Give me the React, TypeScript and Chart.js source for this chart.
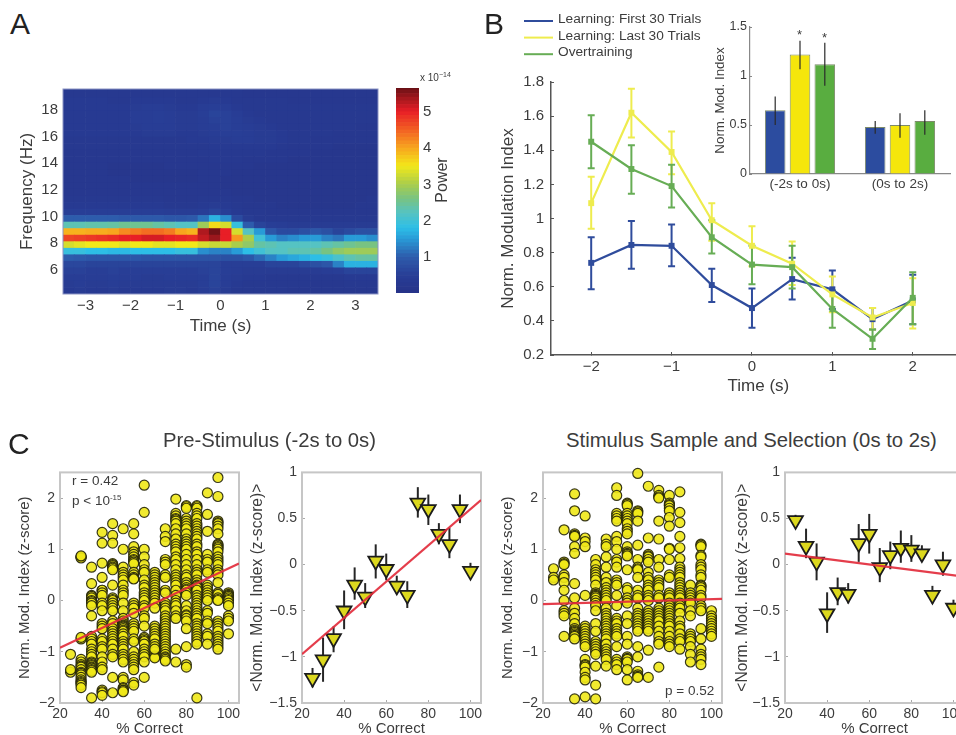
import React, { useEffect, useRef } from "react";
import { Chart, registerables } from "chart.js";

Chart.register(...registerables);

const FONT = '"Liberation Sans", Arial, sans-serif';
const TEXT = "#3c3c3c";

// ---------- Panel A ----------
const heatTimes = [-3.375, -3.125, -2.875, -2.625, -2.375, -2.125, -1.875, -1.625, -1.375, -1.125, -0.875, -0.625, -0.375, -0.125, 0.125, 0.375, 0.625, 0.875, 1.125, 1.375, 1.625, 1.875, 2.125, 2.375, 2.625, 2.875, 3.125, 3.375];
const heatFreqEdges = [4.2, 4.69, 5.18, 5.67, 6.16, 6.65, 7.14, 7.63, 8.12, 8.61, 9.1, 9.59, 10.08, 10.57, 11.06, 11.55, 12.04, 12.53, 13.02, 13.51, 14.0, 14.49, 14.98, 15.47, 15.96, 16.45, 16.94, 17.43, 17.92, 18.41, 18.9, 19.39, 19.88];
const heatPower = [
  [.35, .4, .35, .35, .4, .35, .35, .35, .35, .4, .4, .35, .45, .55, .4, .3, .3, .3, .3, .3, .25, .25, .25, .25, .25, .25, .25, .25],
  [.4, .45, .4, .4, .45, .4, .4, .4, .4, .4, .4, .4, .5, .6, .45, .35, .3, .3, .3, .3, .3, .3, .25, .25, .25, .3, .3, .3],
  [.45, .45, .45, .45, .5, .45, .45, .4, .4, .45, .45, .45, .5, .6, .45, .4, .35, .35, .3, .3, .3, .3, .3, .3, .3, .35, .35, .35],
  [.55, .55, .5, .5, .55, .5, .5, .5, .5, .5, .5, .5, .55, .6, .5, .45, .4, .4, .4, .4, .4, .4, .4, .45, .5, .6, .6, .6],
  [.65, .65, .6, .6, .6, .6, .6, .6, .6, .6, .6, .6, .6, .6, .5, .5, .5, .5, .6, .6, .6, .7, .8, .9, 1.3, 1.7, 1.7, 1.7],
  [1.0, .95, .9, .9, .9, .9, .9, .85, .85, .85, .85, .85, .85, .85, .8, .8, .9, 1.1, 1.3, 1.5, 1.6, 1.7, 1.8, 1.9, 2.1, 2.3, 2.4, 2.4],
  [1.9, 1.9, 1.8, 1.8, 1.75, 1.75, 1.8, 1.8, 1.8, 1.8, 1.9, 1.9, 1.4, 1.3, 1.3, 1.5, 1.8, 2.0, 2.2, 2.2, 2.3, 2.3, 2.4, 2.6, 2.8, 2.9, 2.9, 2.9],
  [3.3, 3.4, 3.5, 3.5, 3.5, 3.4, 3.5, 3.5, 3.4, 3.4, 3.5, 3.5, 3.3, 3.2, 3.2, 3.0, 2.8, 2.4, 2.3, 2.2, 2.2, 2.2, 2.2, 2.3, 2.4, 2.5, 2.6, 2.6],
  [4.7, 4.75, 4.8, 4.85, 4.9, 5.0, 5.0, 5.1, 5.1, 5.0, 4.95, 4.9, 5.2, 5.4, 5.0, 4.1, 3.0, 2.0, 1.5, 1.3, 1.4, 1.5, 1.5, 1.3, 1.2, 1.5, 1.5, 1.4],
  [3.9, 3.9, 3.95, 3.95, 4.0, 4.2, 4.3, 4.4, 4.4, 4.3, 4.0, 3.9, 5.3, 5.6, 5.0, 3.3, 2.2, 1.5, .9, .7, .7, .8, .9, .8, .6, .7, .8, .8],
  [2.3, 2.3, 2.35, 2.35, 2.4, 2.5, 2.5, 2.5, 2.4, 2.3, 2.2, 2.2, 2.9, 3.6, 3.3, 1.9, 1.0, .6, .5, .45, .4, .4, .4, .4, .4, .4, .4, .4],
  [1.0, 1.0, 1.0, 1.0, 1.0, .95, .95, .95, .95, .9, .9, .95, 1.2, 1.7, 1.4, .7, .4, .3, .3, .3, .3, .3, .3, .3, .3, .3, .3, .3],
  [.5, .5, .5, .5, .5, .5, .5, .5, .5, .45, .45, .45, .5, .6, .5, .35, .3, .3, .25, .25, .25, .25, .25, .25, .25, .25, .25, .25],
  [.35, .35, .35, .35, .35, .35, .35, .35, .35, .3, .3, .3, .35, .4, .35, .3, .25, .25, .25, .2, .2, .2, .2, .2, .2, .2, .25, .25],
  [.3, .3, .3, .3, .3, .3, .3, .3, .3, .25, .25, .25, .3, .3, .3, .25, .25, .2, .2, .2, .2, .2, .2, .2, .2, .2, .2, .25],
  [.25, .25, .25, .25, .25, .25, .25, .25, .25, .25, .25, .25, .25, .25, .25, .2, .2, .2, .2, .2, .2, .2, .2, .2, .2, .2, .2, .2],
  [.25, .25, .25, .25, .25, .25, .25, .25, .25, .25, .25, .25, .25, .25, .2, .2, .2, .2, .2, .2, .2, .2, .2, .2, .2, .2, .2, .2],
  [.25, .25, .25, .25, .25, .25, .2, .2, .2, .2, .2, .2, .25, .25, .2, .2, .2, .2, .2, .2, .2, .2, .2, .2, .2, .2, .2, .2],
  [.25, .25, .25, .25, .2, .2, .2, .2, .2, .2, .2, .2, .25, .25, .25, .2, .2, .2, .2, .2, .2, .2, .2, .2, .2, .2, .2, .2],
  [.25, .25, .25, .25, .2, .2, .2, .2, .2, .25, .25, .25, .25, .25, .25, .25, .25, .2, .2, .2, .2, .2, .2, .2, .2, .2, .2, .2],
  [.25, .25, .25, .25, .25, .25, .25, .25, .25, .25, .25, .25, .25, .3, .3, .3, .25, .25, .25, .25, .2, .2, .2, .2, .2, .2, .2, .2],
  [.25, .25, .25, .25, .25, .25, .25, .25, .25, .25, .25, .25, .3, .3, .3, .3, .3, .3, .25, .25, .25, .25, .2, .2, .2, .2, .2, .2],
  [.3, .3, .3, .3, .3, .3, .3, .3, .3, .3, .3, .3, .3, .35, .35, .35, .35, .35, .35, .3, .25, .25, .25, .25, .2, .2, .2, .2],
  [.3, .3, .3, .3, .3, .3, .3, .3, .3, .3, .3, .35, .35, .4, .4, .45, .45, .4, .4, .35, .3, .3, .25, .25, .25, .25, .25, .25],
  [.35, .35, .35, .35, .35, .35, .35, .4, .4, .4, .35, .35, .4, .45, .5, .5, .45, .4, .4, .35, .3, .3, .3, .3, .25, .25, .25, .25],
  [.35, .35, .35, .35, .35, .35, .4, .45, .45, .45, .4, .4, .45, .5, .55, .5, .45, .4, .35, .3, .3, .3, .3, .3, .3, .3, .25, .25],
  [.35, .35, .35, .35, .35, .35, .45, .45, .5, .45, .4, .4, .45, .55, .55, .5, .4, .35, .3, .3, .3, .3, .3, .3, .3, .3, .3, .3],
  [.35, .35, .35, .35, .35, .35, .45, .45, .5, .45, .4, .4, .5, .6, .55, .45, .35, .3, .3, .3, .3, .3, .3, .3, .3, .3, .3, .3],
  [.35, .35, .35, .35, .35, .35, .4, .45, .45, .4, .35, .35, .45, .5, .45, .35, .3, .3, .3, .3, .3, .3, .3, .3, .3, .3, .3, .3],
  [.35, .35, .35, .35, .3, .3, .35, .35, .35, .35, .3, .3, .35, .4, .35, .3, .3, .3, .3, .3, .25, .25, .25, .25, .25, .25, .25, .25],
  [.3, .3, .3, .3, .3, .3, .3, .3, .3, .3, .3, .3, .3, .3, .3, .3, .25, .25, .25, .25, .25, .25, .25, .25, .25, .25, .25, .25],
  [.3, .3, .3, .3, .3, .3, .3, .3, .3, .3, .3, .3, .3, .3, .3, .3, .25, .25, .25, .25, .25, .25, .25, .25, .25, .25, .25, .25],
];
const colorbarLevels = [0, .1, .2, .3, .4, .5, .6, .7, .8, .9, 1, 1.1, 1.2, 1.3, 1.4, 1.5, 1.6, 1.7, 1.8, 1.9, 2, 2.1, 2.2, 2.3, 2.4, 2.5, 2.6, 2.7, 2.8, 2.9, 3, 3.1, 3.2, 3.3, 3.4, 3.5, 3.6, 3.7, 3.8, 3.9, 4, 4.1, 4.2, 4.3, 4.4, 4.5, 4.6, 4.7, 4.8, 4.9, 5, 5.1, 5.2, 5.3, 5.4, 5.5, 5.6, 5.7];
const jetStops: [number, number, number, number][] = [
  [0, 38, 50, 135], [0.5, 40, 62, 150], [1, 45, 92, 172], [1.5, 40, 155, 215], [1.8, 45, 190, 230],
  [2.2, 85, 195, 195], [2.6, 120, 195, 130], [3, 170, 205, 75], [3.5, 242, 232, 25], [4, 248, 165, 30],
  [4.5, 242, 95, 35], [5, 232, 30, 38], [5.35, 165, 24, 30], [5.7, 95, 15, 20],
];
const heatTimeTicks = [-3, -2, -1, 0, 1, 2, 3];
const heatFreqTicks = [6, 8, 10, 12, 14, 16, 18];
const colorbarTicks = [1, 2, 3, 4, 5];

// ---------- Panel B ----------
const modTimes = [-2, -1.5, -1, -0.5, 0, 0.5, 1, 1.5, 2];
const firstTrials = [.74, .845, .84, .61, .475, .645, .585, .41, .52];
const firstLow = [.585, .705, .72, .51, .36, .525, .47, .35, .38];
const firstHigh = [.89, .985, .965, .705, .59, .77, .695, .475, .67];
const lastTrials = [1.09, 1.62, 1.39, .99, .84, .735, .555, .42, .505];
const lastLow = [.94, 1.475, 1.26, .87, .72, .61, .45, .35, .355];
const lastHigh = [1.245, 1.76, 1.51, 1.09, .955, .865, .66, .475, .65];
const overtraining = [1.45, 1.29, 1.19, .89, .73, .715, .47, .295, .535];
const overLow = [1.295, 1.145, 1.065, .795, .615, .59, .36, .235, .38];
const overHigh = [1.605, 1.43, 1.315, .99, .84, .84, .58, .35, .685];
const seriesNames = ["Learning: First 30 Trials", "Learning: Last 30 Trials", "Overtraining"];
const modYTicks = [.2, .4, .6, .8, 1, 1.2, 1.4, 1.6, 1.8];
const modXTicks = [-2, -1, 0, 1, 2];

const insetWindows = ["(-2s to 0s)", "(0s to 2s)"];
const insetFirst = [.65, .48];
const insetFirstLow = [.5, .41];
const insetFirstHigh = [.79, .54];
const insetLast = [1.22, .5];
const insetLastLow = [1.07, .37];
const insetLastHigh = [1.36, .62];
const insetOver = [1.12, .54];
const insetOverLow = [.9, .4];
const insetOverHigh = [1.34, .65];
const insetYTicks = [0, .5, 1, 1.5];

// ---------- Panel C ----------
const correctLevels = [25, 30, 35, 40, 45, 50, 55, 60, 65, 70, 75, 80, 85, 90, 95, 100];
const preColumns = [
  [-1.05, -1.4, -1.35],
  [-.75, .85, .85, .83, .87, -.72, -1.15, -1.2, -1.25, -1.28, -1.3, -1.35, -1.4, -1.42, -1.45, -1.5, -1.55, -1.58, -1.6, -1.62, -1.65, -1.7],
  [.65, .33, .1, .08, .05, 0, -.02, -.05, -.1, -.3, -.7, -.75, -.8, -.85, -.95, -1, -1.05, -1.1, -1.2, -1.22, -1.25, -1.27, -1.3, -1.32, -1.35, -1.37, -1.4, -1.9],
  [1.33, 1.12, .73, .45, .2, .2, .15, .1, -.05, -.1, -.2, -.45, -.5, -.55, -.75, -.8, -.9, -.95, -1.1, -1.2, -1.3, -1.35, -1.75, -1.78, -1.8, -1.85],
  [1.5, 1.27, 1.12, .72, .7, .68, .65, .63, .6, .3, .05, .02, 0, -.05, -.1, -.15, -.2, -.4, -.45, -.55, -.6, -.65, -.7, -.75, -.8, -.85, -.95, -1.05, -1.1, -1.5, -1.8],
  [1.4, 1, .65, .55, .5, .45, .4, .3, .2, .15, .1, -.05, -.2, -.35, -.4, -.45, -.48, -.5, -.52, -.55, -.58, -.6, -.65, -.7, -.8, -.85, -.9, -.95, -1.05, -1.1, -1.15, -1.2, -1.5, -1.55, -1.7, -1.72, -1.75, -1.76, -1.78],
  [1.5, 1.3, 1.05, .95, .9, .85, .8, .78, .75, .72, .55, .5, .45, .43, .42, -.05, -.1, -.15, -.25, -.45, -.5, -.55, -.6, -.75, -.8, -1, -1.1, -1.15, -1.2, -1.25, -1.3, -1.35, -1.6, -1.65],
  [2.25, 1.72, 1, .85, .7, .6, .55, .4, .3, .25, .15, .1, .05, 0, -.1, -.15, -.3, -.35, -.5, -.72, -.75, -.78, -.8, -.85, -.95, -1, -1.05, -1.1, -1.2, -1.5],
  [.55, .5, .45, .4, .35, .3, .25, .2, .15, .1, .05, 0, -.05, -.15, -.5, -.55, -.6, -.65, -.7, -.75, -.85, -.9, -1.05, -1, -1.08, -1.1, -1.12, -.95],
  [1.4, 1.25, 1.15, .8, .75, .7, .5, .45, .2, .15, -.05, -.1, -.15, -.2, -.3, -.35, -.4, -.45, -.5, -.55, -.6, -.65, -.7, -.75, -.8, -.85, -.9, -.95, -1, -1.05, -1.1, -1.12, -1.15, -1.18],
  [1.98, 1.7, 1.65, 1.6, 1.58, 1.55, 1.5, 1.4, 1.3, 1.2, 1.1, 1.05, 1, .95, .85, .8, .7, .6, .5, .45, .4, .35, .3, .2, .1, 0, -.05, -.1, -.2, -.3, -.35, -.95, -1.2],
  [1.85, 1.83, 1.8, 1.6, 1.55, 1.5, 1.45, 1.4, 1.3, 1.2, 1.15, 1.1, 1.05, 1, .9, .8, .7, .6, .5, .45, .35, .3, .25, .22, .2, .15, .1, -.1, -.2, -.28, -.3, -.35, -.4, -.55, -.9, -1.25, -1.3],
  [1.85, 1.83, 1.8, 1.7, 1.65, 1.6, 1.5, 1.45, 1.4, 1.35, 1.3, 1.25, 1.2, 1.1, 1.05, .95, .9, .8, .7, .6, .55, .5, .4, .35, .3, .28, .25, .2, .1, .05, 0, -.05, -.1, -.15, -.2, -.25, -.3, -.35, -.45, -.5, -.55, -.6, -.65, -.7, -.75, -.8, -.85, -1.9],
  [2.1, 1.68, 1.35, .9, .8, .75, .6, .55, .3, .25, .2, .15, .1, .05, 0, -.2, -.25, -.4, -.45, -.65, -.7, -.85],
  [2.4, 2.03, 1.55, 1.52, 1.5, 1.45, 1.4, 1.3, 1.1, 1.08, 1.05, 1.03, 1, .95, .85, .8, .75, .7, .6, .55, .5, .35, .15, .12, .05, .02, 0, -.4, -.45, -.5, -.55, -.6, -.7, -.75, -.8, -.85, -.9, -.95],
  [.15, .12, .1, .08, .05, .02, 0, -.05, -.1, -.3, -.35, -.4, -.65],
];
const stimColumns = [
  [.62, .45, .4],
  [1.38, .75, .72, .7, .5, .45, .35, .2, 0, -.2, -.25, -.3, -.7],
  [2.08, 1.75, 1.3, 1.27, 1.25, 1.05, .92, .33, .05, -.15, -.25, -.35, -.45, -.55, -.58, -.6, -.62, -.65, -.68, -.7, -.75, -1.92],
  [1.65, 1.22, 1.15, 1.05, .1, -.5, -.55, -.6, -.65, -.7, -.75, -.8, -.85, -.9, -1.15, -1.25, -1.27, -1.3, -1.4, -1.5, -1.55, -1.88],
  [.8, .7, .6, .55, .5, .45, .4, .3, .15, .12, .1, .08, .05, 0, -.05, -.1, -.2, -.45, -.6, -.8, -.85, -.9, -.95, -1, -1.05, -1.28, -1.65, -1.92],
  [1.2, 1.1, 1.05, .85, .65, .45, .35, .25, .2, .15, .1, .05, 0, -.15, -.25, -.3, -.35, -.4, -.45, -.5, -.55, -.6, -.65, -.7, -.75, -.85, -.95, -1, -1.05, -1.1, -1.15, -1.28],
  [2.2, 2.05, 1.7, 1.65, 1.6, 1.55, 1.25, 1.15, 1, .8, .75, .65, .4, .35, .3, .1, -.1, -.35, -.4, -.45, -.55, -.6, -.65, -.7, -.9, -1.15, -1.2, -1.25, -1.35],
  [1.9, 1.88, 1.85, 1.7, 1.65, 1.6, 1.55, 1.5, 1.4, 1.35, 1.3, 1.05, .95, .92, .9, .87, .6, .25, .2, .05, 0, -.05, -.3, -.45, -.7, -.85, -1.1, -1.13, -1.15, -1.2, -1.35, -1.55],
  [2.48, 1.75, 1.73, 1.7, 1.55, 1.08, .8, .65, .62, .6, .45, .2, .1, .05, -.15, -.25, -.3, -.35, -.4, -.45, -.5, -.55, -.6, -.9, -1.1, -1.38, -1.45, -1.48, -1.5],
  [2.23, 1.22, .9, .87, .85, .8, .75, .55, .45, .4, .3, .25, .2, .1, .05, 0, -.2, -.25, -.3, -.35, -.4, -.45, -.5, -.55, -.6, -.97, -1.5],
  [2.15, 2.05, 2.02, 2, 1.55, 1.2, .8, .65, .4, .35, .3, .25, .1, .05, -.15, -.2, -.25, -.3, -.35, -.4, -.5, -.6, -.7, -.8, -.85, -1.3],
  [2.05, 1.9, 1.87, 1.85, 1.8, 1.75, 1.62, 1.45, 1.02, 1, .8, .5, .45, .15, .1, .05, -.05, -.1, -.15, -.2, -.25, -.3, -.35, -.4, -.45, -.5, -.6, -.7, -.8, -.85, -.9],
  [2.12, 1.72, 1.52, 1.25, 1.03, .82, .65, .6, .55, .5, .45, .35, .3, .25, .2, .15, .1, .05, -.05, -.1, -.15, -.25, -.4, -.5, -.55, -.65, -.75, -.8, -.95],
  [.3, .15, .1, .05, 0, -.05, -.2, -.3, -.65, -.7, -.75, -.8, -.9, -1.05, -1.2],
  [1.1, 1.08, 1.05, .88, .85, .7, .65, .6, .5, .45, .3, .28, .25, .2, .1, .05, -.1, -.15, -.2, -.55, -.75, -.95, -1.05, -1.1, -1.15, -1.25],
  [-.2, -.3, -.35, -.4, -.45, -.5, -.55, -.6, -.65, -.7],
];
const preMeans = [-1.23, -1.03, -.8, -.5, -.22, -.35, .04, -.05, -.23, -.33, .67, .6, .33, .22, .6, -.07];
const preMeansLow = [-1.33, -1.27, -.95, -.7, -.38, -.47, -.15, -.17, -.32, -.47, .51, .43, .22, .07, .45, -.15];
const preMeansHigh = [-1.12, -.79, -.67, -.28, -.03, -.2, .22, .12, -.12, -.18, .84, .76, .45, .4, .76, .02];
const stimMeans = [.48, .2, .03, -.53, -.3, -.32, .23, .33, -.03, .1, .18, .16, .12, -.33, 0, -.47];
const stimMeansLow = [.42, .07, -.17, -.74, -.44, -.42, .03, .12, -.19, -.05, .02, .03, .04, -.42, -.12, -.55];
const stimMeansHigh = [.54, .39, .23, -.3, -.14, -.2, .44, .55, .18, .25, .37, .32, .21, -.23, .14, -.38];
const fitX = [20, 105];
const preRawFit = [-.92, .72];
const stimRawFit = [-.07, .03];
const preMeanFit = [-.97, .7];
const stimMeanFit = [.12, -.13];
const correctTicks = [20, 40, 60, 80, 100];
const rawYTicks = [-2, -1, 0, 1, 2];
const meanYTicks = [-1.5, -1, -.5, 0, .5, 1];

// ---------- helpers ----------
function powerColor(v: number) {
  let i = 0;
  while (i < jetStops.length - 2 && v > jetStops[i + 1][0]) i++;
  const a = jetStops[i];
  const b = jetStops[i + 1];
  const f = Math.min(1, Math.max(0, (v - a[0]) / (b[0] - a[0])));
  const c = [1, 2, 3].map((k) => Math.round(a[k] + (b[k] - a[k]) * f));
  return `rgb(${c[0]},${c[1]},${c[2]})`;
}

const minusFmt = (v: number) => String(v).replace("-", "\u2212");

type AxisSpec = {
  min?: number; max?: number; values?: number[]; font: number; padding: number; tickLength?: number;
  tickColor?: string; thickness: number; title?: string; titleFont?: number; position?: string;
  borderColor?: string; borderWidth?: number; type?: string; fmt?: (v: any) => string; display?: boolean;
};

function axis(s: AxisSpec) {
  const horizontal = s.position === "bottom";
  return {
    type: s.type ?? "linear",
    display: s.display ?? true,
    position: s.position,
    min: s.min,
    max: s.max,
    offset: s.type === "category",
    afterBuildTicks: s.values ? (sc: any) => { sc.ticks = s.values!.map((value) => ({ value })); } : undefined,
    afterFit: (sc: any) => { if (horizontal) sc.height = s.thickness; else sc.width = s.thickness; },
    grid: {
      display: !!s.tickLength,
      drawOnChartArea: false,
      drawTicks: !!s.tickLength,
      tickLength: s.tickLength ?? 0,
      tickColor: s.tickColor ?? "#777",
      offset: false,
    },
    border: { display: !!s.borderColor, color: s.borderColor, width: s.borderWidth ?? 1 },
    ticks: {
      autoSkip: false, maxRotation: 0, minRotation: 0, padding: s.padding, color: TEXT,
      font: { family: FONT, size: s.font },
      callback: s.fmt ?? ((v: any) => minusFmt(v)),
    },
    title: s.title
      ? { display: true, text: s.title, color: TEXT, padding: 0, font: { family: FONT, size: s.titleFont ?? s.font } }
      : { display: false },
  };
}

const errorBars = {
  id: "errorBars",
  _paint(chart: any, top: boolean) {
    const ctx = chart.ctx;
    chart.data.datasets.forEach((ds: any, di: number) => {
      if (!ds.errLow || !!ds.errOnTop !== top) return;
      const meta = chart.getDatasetMeta(di);
      const y = chart.scales[meta.yAxisID];
      ctx.save();
      ctx.strokeStyle = ds.errColor;
      ctx.lineWidth = ds.errWidth;
      ds.errLow.forEach((low: number, i: number) => {
        const x = meta.data[i].x;
        const y0 = y.getPixelForValue(low);
        const y1 = y.getPixelForValue(ds.errHigh[i]);
        ctx.beginPath();
        ctx.moveTo(x, y0);
        ctx.lineTo(x, y1);
        if (ds.errCap) {
          ctx.moveTo(x - ds.errCap, y0);
          ctx.lineTo(x + ds.errCap, y0);
          ctx.moveTo(x - ds.errCap, y1);
          ctx.lineTo(x + ds.errCap, y1);
        }
        ctx.stroke();
      });
      ctx.restore();
    });
  },
  beforeDatasetsDraw(chart: any) { errorBars._paint(chart, false); },
  afterDatasetsDraw(chart: any) { errorBars._paint(chart, true); },
};

const plotFrame = {
  id: "plotFrame",
  _paint(chart: any, o: any) {
    const { left, top, right, bottom } = chart.chartArea;
    chart.ctx.save();
    chart.ctx.strokeStyle = o.color;
    chart.ctx.lineWidth = o.width;
    chart.ctx.strokeRect(left, top, right - left, bottom - top);
    chart.ctx.restore();
  },
  beforeDatasetsDraw(chart: any, _a: any, o: any) { if (o.color && !o.above) plotFrame._paint(chart, o); },
  afterDatasetsDraw(chart: any, _a: any, o: any) { if (o.color && o.above) plotFrame._paint(chart, o); },
};

const seriesKey = {
  id: "seriesKey",
  afterDraw(chart: any) {
    const ctx = chart.ctx;
    ctx.save();
    ctx.font = `13.7px ${FONT}`;
    ctx.textBaseline = "middle";
    chart.data.datasets.forEach((ds: any, i: number) => {
      const y = 20.5 + i * 16.6;
      ctx.strokeStyle = ds.borderColor;
      ctx.lineWidth = 2;
      ctx.beginPath();
      ctx.moveTo(524 - chart.canvas.offsetLeft, y + 0.5);
      ctx.lineTo(553 - chart.canvas.offsetLeft, y + 0.5);
      ctx.stroke();
      ctx.fillStyle = TEXT;
      ctx.fillText(ds.label, 558 - chart.canvas.offsetLeft, y - 1);
    });
    ctx.restore();
  },
};

type Box = { l: number; t: number; r: number; b: number; ml: number; mt: number; mr: number; mb: number };

function Plot({ box, build }: { box: Box; build: () => any }) {
  const ref = useRef<HTMLCanvasElement>(null);
  useEffect(() => {
    const cfg = build();
    cfg.options = {
      responsive: false,
      animation: false,
      events: [],
      ...cfg.options,
      layout: { padding: { top: box.mt, right: cfg.rightAxis ? 0 : box.mr, left: 0, bottom: cfg.rightAxis ? box.mb : 0 } },
    };
    cfg.options.plugins = { legend: { display: false }, tooltip: { enabled: false }, ...cfg.options.plugins };
    const chart = new Chart(ref.current!, cfg);
    return () => chart.destroy();
  }, []);
  const w = box.r - box.l + box.ml + box.mr;
  const h = box.b - box.t + box.mt + box.mb;
  return (
    <canvas
      ref={ref}
      width={w}
      height={h}
      style={{ position: "absolute", left: box.l - box.ml, top: box.t - box.mt, width: w, height: h }}
    />
  );
}

function Label({ x, cy, size, children, color = TEXT }: any) {
  return (
    <div style={{ position: "absolute", left: x, top: cy - size / 2, fontSize: size, lineHeight: `${size}px`, color, whiteSpace: "nowrap" }}>
      {children}
    </div>
  );
}

// ---------- chart builders ----------
const buildHeat = () => ({
  type: "bar",
  data: {
    datasets: heatPower.map((row, r) => ({
      data: row.map((_, c) => ({ x: heatTimes[c], y: [heatFreqEdges[r], heatFreqEdges[r + 1]] })),
      backgroundColor: row.map(powerColor),
      borderWidth: 0,
      barPercentage: 1,
      categoryPercentage: 1,
      grouped: false,
    })),
  },
  options: {
    scales: {
      x: axis({ position: "bottom", min: -3.5, max: 3.5, values: heatTimeTicks, font: 15, padding: 3, thickness: 43, title: "Time (s)", titleFont: 17 }),
      y: axis({ position: "left", min: 4.2, max: 19.55, values: heatFreqTicks, font: 15, padding: 5, thickness: 46, title: "Frequency (Hz)", titleFont: 17 }),
    },
    plugins: { plotFrame: { color: "#8c94c4", width: 1, above: true } },
  },
  plugins: [plotFrame],
});

const buildColorbar = () => ({
  type: "bar",
  rightAxis: true,
  data: {
    labels: ["Power"],
    datasets: colorbarLevels.slice(0, -1).map((lev, i) => ({
      data: [[lev, colorbarLevels[i + 1]]],
      backgroundColor: powerColor((lev + colorbarLevels[i + 1]) / 2),
      borderWidth: 0,
      barPercentage: 1,
      categoryPercentage: 1,
      grouped: false,
    })),
  },
  options: {
    scales: {
      x: { type: "category", display: false, offset: true },
      y: axis({ position: "right", min: 0.02, max: 5.65, values: colorbarTicks, font: 15, padding: 4, thickness: 24 }),
    },
  },
});

const modSeries = (label: string, data: number[], low: number[], high: number[], color: string, order: number) => ({
  label,
  data: data.map((y, i) => ({ x: modTimes[i], y })),
  borderColor: color,
  backgroundColor: color,
  borderWidth: 2.2,
  pointStyle: "rect",
  pointRadius: 4.2,
  pointBorderWidth: 0,
  showLine: true,
  order,
  clip: false,
  errLow: low,
  errHigh: high,
  errColor: color,
  errWidth: 2,
  errCap: 3.5,
});

const buildMod = () => ({
  type: "scatter",
  data: {
    datasets: [
      modSeries(seriesNames[0], firstTrials, firstLow, firstHigh, "#2f4c9c", 3),
      modSeries(seriesNames[1], lastTrials, lastLow, lastHigh, "#eeec4e", 2),
      modSeries(seriesNames[2], overtraining, overLow, overHigh, "#67ad55", 1),
    ],
  },
  options: {
    scales: {
      x: axis({ position: "bottom", min: -2.5, max: 2.66, values: modXTicks, font: 15, padding: 6, tickLength: -3, tickColor: "#555", thickness: 42, title: "Time (s)", titleFont: 17, borderColor: "#555", borderWidth: 1.5 }),
      y: axis({ position: "left", min: .2, max: 1.8, values: modYTicks, font: 15, padding: 10, tickLength: -3, tickColor: "#555", thickness: 53, title: "Norm. Modulation Index", titleFont: 17, borderColor: "#555", borderWidth: 1.5 }),
    },
  },
  plugins: [errorBars, seriesKey],
});

const insetBar = (label: string, data: number[], low: number[], high: number[], color: string) => ({
  label,
  data,
  backgroundColor: color,
  borderColor: "#7d8a6a",
  borderWidth: 1,
  barPercentage: 0.83,
  categoryPercentage: 0.744,
  errLow: low,
  errHigh: high,
  errColor: "#2a2a2a",
  errWidth: 1.2,
  errOnTop: true,
});

const buildInset = () => ({
  type: "bar",
  data: {
    labels: insetWindows,
    datasets: [
      insetBar(seriesNames[0], insetFirst, insetFirstLow, insetFirstHigh, "#2c4c9f"),
      insetBar(seriesNames[1], insetLast, insetLastLow, insetLastHigh, "#f5e60c"),
      insetBar(seriesNames[2], insetOver, insetOverLow, insetOverHigh, "#59ad40"),
    ],
  },
  options: {
    scales: {
      x: axis({ type: "category", position: "bottom", font: 13.5, padding: 2, thickness: 25, borderColor: "#888", borderWidth: 1.2, fmt: function (v: any) { return insetWindows[v]; } }),
      y: axis({ position: "left", min: 0, max: 1.5, values: insetYTicks, font: 12.5, padding: 5, tickLength: -2, tickColor: "#888", thickness: 38, title: "Norm. Mod. Index", titleFont: 13.4, borderColor: "#888", borderWidth: 1.2 }),
    },
  },
  plugins: [errorBars],
});

const fitLine = (ys: number[]) => ({
  data: ys.map((y, i) => ({ x: fitX[i], y })),
  showLine: true,
  borderColor: "rgba(226,45,60,0.92)",
  borderWidth: 2.2,
  pointRadius: 0,
  order: 0,
});

const correctAxis = () => axis({ position: "bottom", min: 20, max: 105, values: correctTicks, font: 14, padding: 6, tickLength: -3, tickColor: "#aaa", thickness: 35, title: "% Correct", titleFont: 15 });

const buildRaw = (columns: number[][], fit: number[], yWidth: number) => () => ({
  type: "scatter",
  data: {
    datasets: [
      fitLine(fit),
      {
        data: columns.flatMap((col, i) => col.map((y) => ({ x: correctLevels[i], y }))),
        backgroundColor: "rgba(240,232,24,0.9)",
        borderColor: "rgba(35,35,10,0.9)",
        borderWidth: 1.2,
        pointRadius: 5,
        clip: false,
        order: 1,
      },
    ],
  },
  options: {
    scales: {
      x: correctAxis(),
      y: axis({ position: "left", min: -2, max: 2.5, values: rawYTicks, font: 14, padding: 8, tickLength: -3, tickColor: "#aaa", thickness: yWidth, title: "Norm. Mod. Index (z-score)", titleFont: 15 }),
    },
    plugins: { plotFrame: { color: "#c6c6c6", width: 2 } },
  },
  plugins: [plotFrame],
});

const buildMeans = (means: number[], low: number[], high: number[], fit: number[], yWidth: number) => () => ({
  type: "scatter",
  data: {
    datasets: [
      fitLine(fit),
      {
        data: means.map((y, i) => ({ x: correctLevels[i], y })),
        backgroundColor: "#dcd81e",
        borderColor: "#1c1c1c",
        borderWidth: 1.8,
        pointStyle: "triangle",
        rotation: 180,
        pointRadius: 8.5,
        clip: false,
        order: 1,
        errLow: low,
        errHigh: high,
        errColor: "#262626",
        errWidth: 2,
      },
    ],
  },
  options: {
    scales: {
      x: correctAxis(),
      y: axis({ position: "left", min: -1.5, max: 1, values: meanYTicks, font: 14, padding: 8, tickLength: -3, tickColor: "#aaa", thickness: yWidth, title: "<Norm. Mod. Index (z-score)>", titleFont: 15.6 }),
    },
    plugins: { plotFrame: { color: "#c6c6c6", width: 2 } },
  },
  plugins: [plotFrame, errorBars],
});

export default function App() {
  return (
    <div style={{ position: "absolute", left: 0, top: 0, width: 956, height: 735, overflow: "hidden", background: "#fff", fontFamily: FONT, filter: "blur(0.45px)" }}>
      <Plot box={{ l: 63, t: 87, r: 378, b: 294, ml: 46, mt: 12, mr: 16, mb: 43 }} build={buildHeat} />
      <Plot box={{ l: 396, t: 87, r: 419, b: 294, ml: 0, mt: 12, mr: 24, mb: 12 }} build={buildColorbar} />
      <Plot box={{ l: 551, t: 82, r: 970, b: 355, ml: 53, mt: 82, mr: 0, mb: 42 }} build={buildMod} />
      <Plot box={{ l: 750, t: 27, r: 950, b: 174, ml: 38, mt: 14, mr: 6, mb: 25 }} build={buildInset} />
      <Plot box={{ l: 60, t: 468, r: 239, b: 703, ml: 44, mt: 12, mr: 16, mb: 35 }} build={buildRaw(preColumns, preRawFit, 44)} />
      <Plot box={{ l: 302, t: 468, r: 481, b: 703, ml: 54, mt: 12, mr: 16, mb: 35 }} build={buildMeans(preMeans, preMeansLow, preMeansHigh, preMeanFit, 54)} />
      <Plot box={{ l: 543, t: 468, r: 722, b: 703, ml: 44, mt: 12, mr: 16, mb: 35 }} build={buildRaw(stimColumns, stimRawFit, 44)} />
      <Plot box={{ l: 785, t: 468, r: 964, b: 703, ml: 52, mt: 12, mr: 16, mb: 35 }} build={buildMeans(stimMeans, stimMeansLow, stimMeansHigh, stimMeanFit, 52)} />

      <Label x={10} cy={24} size={30} color="#222">A</Label>
      <Label x={484} cy={24} size={30} color="#222">B</Label>
      <Label x={8} cy={444} size={30} color="#222">C</Label>

      <Label x={420} cy={78} size={10}>x 10<sup style={{ fontSize: 7, lineHeight: 0 }}>−14</sup></Label>
      <div style={{ position: "absolute", left: 442, top: 180, fontSize: 16, lineHeight: "16px", color: TEXT, transform: "translate(-50%,-50%) rotate(-90deg)" }}>Power</div>

      <Label x={797} cy={34} size={13}>*</Label>
      <Label x={822} cy={37} size={13}>*</Label>

      <Label x={163} cy={440} size={20.3}>Pre-Stimulus (-2s to 0s)</Label>
      <Label x={566} cy={440} size={20.3}>Stimulus Sample and Selection (0s to 2s)</Label>

      <Label x={72} cy={481} size={13.5}>r = 0.42</Label>
      <Label x={72} cy={501} size={13.5}>p &lt; 10<sup style={{ fontSize: 8, lineHeight: 0 }}>-15</sup></Label>
      <Label x={665} cy={691} size={13.5}>p = 0.52</Label>
    </div>
  );
}
